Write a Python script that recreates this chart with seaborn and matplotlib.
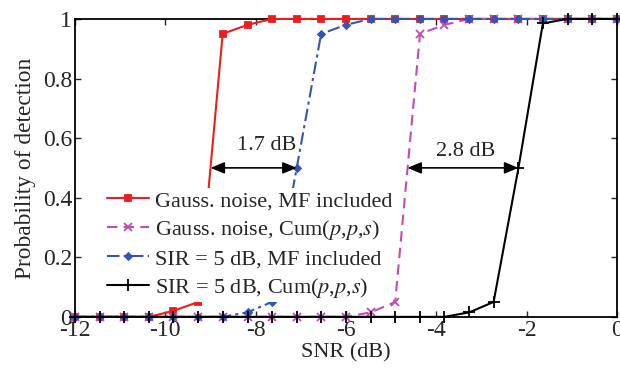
import numpy as np
import matplotlib
matplotlib.use("Agg")
import matplotlib.pyplot as plt
import pandas as pd
import seaborn as sns

# SNR grid (dB)
snr = [-12, -11.45, -10.91, -10.36, -9.82, -9.27, -8.73, -8.18, -7.64, -7.09, -6.55, -6.0,
       -5.45, -4.91, -4.36, -3.82, -3.27, -2.73, -2.18, -1.64, -1.09, -0.55, 0]

# probability of detection
gauss_mf = [0, 0, 0, 0, 0.02, 0.05, 0.95, 0.98, 1, 1, 1, 1,
            1, 1, 1, 1, 1, 1, 1, 1, 1, 1, 1]
gauss_cum = [0, 0, 0, 0, 0, 0, 0, 0, 0, 0, 0, 0,
             0.015, 0.05, 0.95, 0.98, 1, 1, 1, 1, 1, 1, 1]
sir_mf = [0, 0, 0, 0, 0, 0, 0, 0.015, 0.05, 0.5, 0.95, 0.98,
          1, 1, 1, 1, 1, 1, 1, 1, 1, 1, 1]
sir_cum = [0, 0, 0, 0, 0, 0, 0, 0, 0, 0, 0, 0,
           0, 0, 0, 0, 0.015, 0.05, 0.5, 0.985, 1, 1, 1]

labels = ["Gauss. noise, MF included",
          r"Gauss. noise, Cum($p$,$p$,$s$)",
          "SIR = 5 dB, MF included",
          r"SIR = 5 dB, Cum($p$,$p$,$s$)"]

sns.set_style("ticks")
plt.rcParams['font.family'] = ['Liberation Serif', 'DejaVu Serif']
plt.rcParams['mathtext.fontset'] = 'stix'
plt.rcParams['axes.unicode_minus'] = False

df = pd.DataFrame({"snr": snr, "g_mf": gauss_mf, "g_cum": gauss_cum,
                   "s_mf": sir_mf, "s_cum": sir_cum})

fig = plt.figure(figsize=(6.2, 3.71), dpi=100)
ax = fig.add_axes([0.121, 0.146, 0.874, 0.803])

styles = [
    ("g_mf", "#f01c1c", "-", "s", 4, labels[0]),
    ("g_cum", "#c04cb4", (0, (5, 3)), "x", 5.5, labels[1]),
    ("s_mf", "#3455b0", (0, (6, 2, 1.5, 2)), "D", 3.5, labels[2]),
    ("s_cum", "black", "-", "+", 8, labels[3]),
]
for col, c, ls, mk, ms, lab in styles:
    sns.lineplot(data=df, x="snr", y=col, ax=ax, color=c, linestyle=ls,
                 marker=mk, markersize=ms, markeredgewidth=1.3,
                 markeredgecolor=c, markerfacecolor=c, linewidth=1.5,
                 label=lab, clip_on=False, zorder=3)

# gap annotations
arrow = dict(arrowstyle="<|-|>,head_length=0.6,head_width=0.25", color="black",
             lw=1.2, mutation_scale=14, shrinkA=0, shrinkB=0)
ax.annotate("", xy=(-9.0, 0.5), xytext=(-7.09, 0.5), arrowprops=arrow)
ax.text(-7.75, 0.575, "1.7 dB", ha="center", va="center", fontsize=16)
ax.annotate("", xy=(-4.64, 0.5), xytext=(-2.18, 0.5), arrowprops=arrow)
ax.text(-3.35, 0.555, "2.8 dB", ha="center", va="center", fontsize=16)

ax.set_xlim(-12, 0)
ax.set_ylim(0, 1)
ax.set_xticks([-12, -10, -8, -6, -4, -2, 0])
ax.set_xticklabels(["-12", "-10", "-8", "-6", "-4", "-2", "0"])
ax.set_yticks([0, 0.2, 0.4, 0.6, 0.8, 1])
ax.set_yticklabels(["0", "0.2", "0.4", "0.6", "0.8", "1"])
ax.tick_params(direction="in", top=True, right=True, labelsize=17,
               length=4, width=1, pad=2)
for s in ax.spines.values():
    s.set_linewidth(1.3)
    s.set_color("black")

ax.set_xlabel("SNR (dB)", fontsize=16, labelpad=2)
ax.set_ylabel("Probability of detection", fontsize=16.8, labelpad=5)

leg = ax.legend(loc="lower left", bbox_to_anchor=(0.055, 0.05), fontsize=16,
                frameon=True, framealpha=1, facecolor="white",
                edgecolor="none", handlelength=1.9, handletextpad=0.25,
                labelspacing=0.3, borderpad=0.1, borderaxespad=0)
leg.get_frame().set_linewidth(0)
leg.set_zorder(5)

fig.savefig("out.png", dpi=100)
